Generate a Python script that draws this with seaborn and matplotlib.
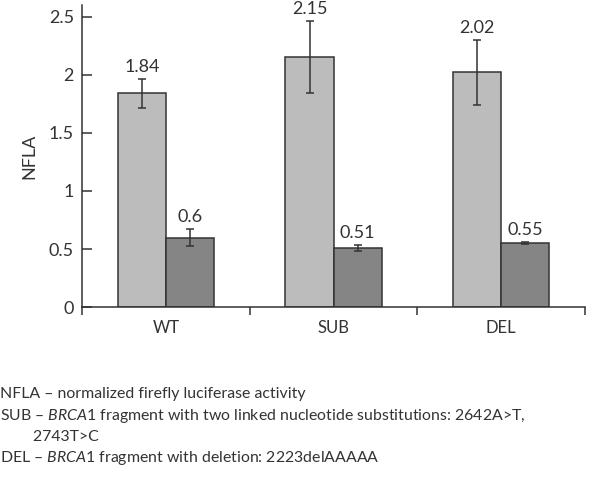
import pandas as pd
import numpy as np
import matplotlib
matplotlib.use("Agg")
import matplotlib.pyplot as plt
import seaborn as sns

# данные графика
categories = ["WT", "SUB", "DEL"]
series = ["first", "second"]
values_first = [1.84, 2.15, 2.02]
values_second = [0.6, 0.51, 0.55]
err_first = [0.125, 0.31, 0.28]
err_second = [0.07, 0.022, 0.01]
y_ticks = [0, 0.5, 1, 1.5, 2, 2.5]
y_tick_labels = ["0", "0.5", "1", "1.5", "2", "2.5"]

notes = [
    "NFLA – normalized firefly luciferase activity",
    r"SUB – $\it{BRCA1}$ fragment with two linked nucleotide substitutions: 2642A>T,",
    "        2743T>C",
    r"DEL – $\it{BRCA1}$ fragment with deletion: 2223delAAAAA",
]

sns.set_style("ticks")
plt.rcParams['font.family'] = ['Lato', 'DejaVu Sans']
plt.rcParams['mathtext.fontset'] = 'custom'
plt.rcParams['mathtext.rm'] = 'Lato'
plt.rcParams['mathtext.it'] = 'Lato:italic'

df = pd.DataFrame({
    "group": categories * 2,
    "series": [series[0]] * 3 + [series[1]] * 3,
    "NFLA": values_first + values_second,
})

fig = plt.figure(figsize=(6, 4.87), dpi=100)
ax = fig.add_axes([0.137, 0.369, 0.838, 0.621])

sns.barplot(data=df, x="group", y="NFLA", hue="series", order=categories,
            hue_order=series, palette=["#bcbcbc", "#858585"], width=0.574,
            edgecolor="#333333", linewidth=1.1, errorbar=None, legend=False,
            saturation=1, ax=ax)

# планки погрешностей и подписи значений
errs = [err_first, err_second]
vals = [values_first, values_second]
for cont, e, v in zip(ax.containers, errs, vals):
    xs = [p.get_x() + p.get_width() / 2 for p in cont]
    ax.errorbar(xs, v, yerr=e, fmt="none", ecolor="#333333", elinewidth=1.1,
                capsize=3, capthick=1.1)
    for x, val, err in zip(xs, v, e):
        ax.annotate(f"{val:g}", (x, val + err), xytext=(0, 3),
                    textcoords="offset points", ha="center", va="bottom",
                    fontsize=13, color="#333333")

ax.set_xlim(-0.5, 2.5)
ax.set_ylim(0, 2.6)
ax.set_yticks(y_ticks)
ax.set_yticklabels(y_tick_labels)
ax.set_xticks([0, 1, 2])
ax.set_xticklabels(categories)
ax.set_xticks([-0.5, 0.5, 1.5, 2.5], minor=True)
ax.tick_params(axis="x", which="major", length=0, labelsize=12, pad=9, colors="#333333")
ax.tick_params(axis="x", which="minor", length=6, width=1.1, direction="out", color="#333333")
ax.tick_params(axis="y", length=7, width=1.1, direction="in", labelsize=13, pad=6, colors="#333333")
ax.set_xlabel("")
ax.set_ylabel("NFLA", fontsize=13, labelpad=8, color="#333333")
for s in ["top", "right"]:
    ax.spines[s].set_visible(False)
for s in ["left", "bottom"]:
    ax.spines[s].set_linewidth(1.1)
    ax.spines[s].set_color("#333333")

ys = [394, 416, 437, 458]
for txt, y in zip(notes, ys):
    fig.text(0.0, 1 - y / 487, txt, fontsize=11.4, va="center", ha="left", color="#333333")

fig.savefig("out.png", dpi=100)
